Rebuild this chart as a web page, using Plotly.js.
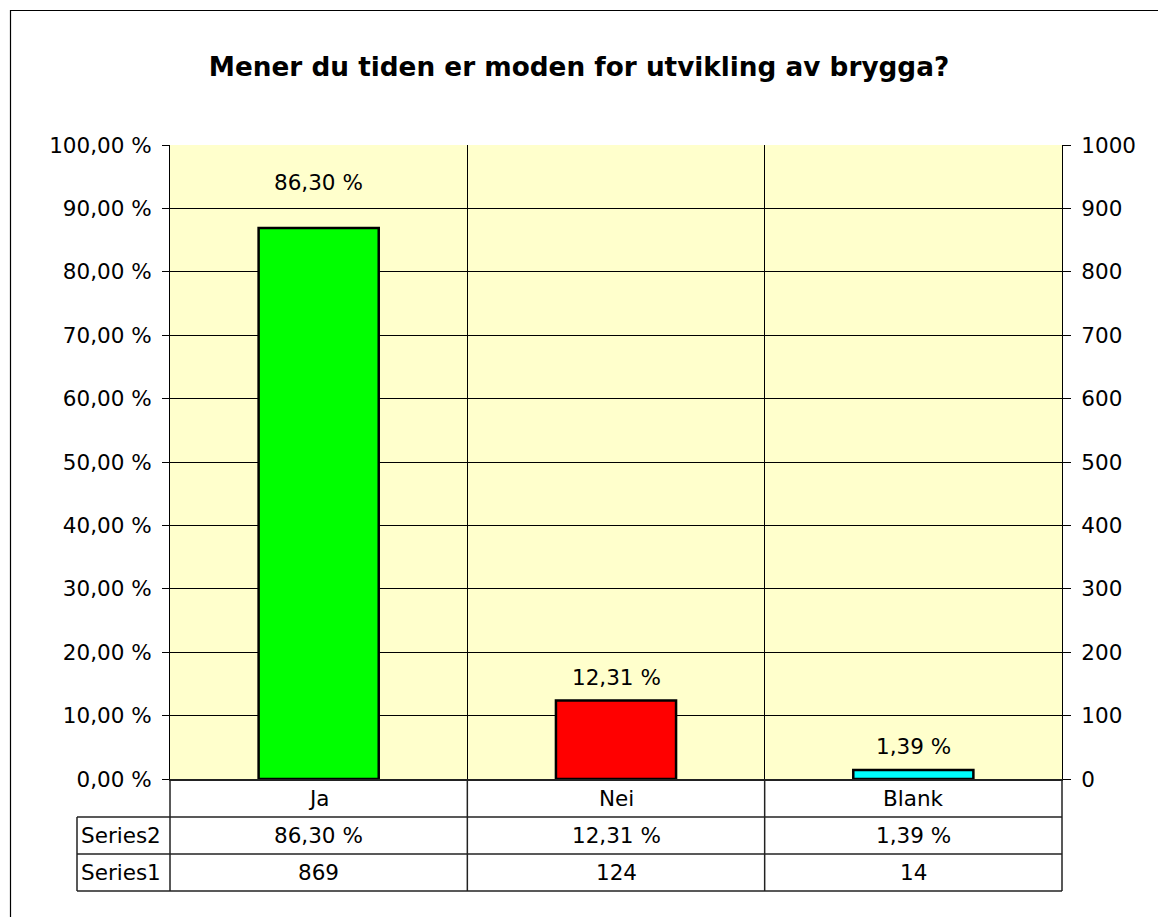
<!DOCTYPE html>
<html>
<head>
<meta charset="utf-8">
<script src="https://cdn.plot.ly/plotly-3.0.1.min.js"></script>
<style>html,body{margin:0;padding:0;background:#fff;}#chart{width:1158px;height:917px;}</style>
</head>
<body>
<div id="chart"></div>
<script>
const categories = ['Ja', 'Nei', 'Blank'];
const series1Counts = [869, 124, 14];
const series2Percent = [86.30, 12.31, 1.39];
const seriesNames = ['Series2', 'Series1'];
const barColors = ['#00FF00', '#FF0000', '#00FFFF'];
const titleText = 'Mener du tiden er moden for utvikling av brygga?';

const W = 1158, H = 917;
const L = 170, R = 1062, T = 145, B = 779;
const pw = R - L, ph = B - T;
const px = X => (X - L) / pw;
const py = Y => (B - Y) / ph;
const FONT = 'DejaVu Sans, Verdana, sans-serif';
const FS = 21.5;
const fmtPct = v => v.toFixed(2).replace('.', ',') + ' %';

const labelShift = [49, 23, 24];

const annotations = [];
// bar labels
categories.forEach((c, i) => {
  annotations.push({x: c, xref: 'x', y: series2Percent[i], yref: 'y', yshift: labelShift[i],
    text: fmtPct(series2Percent[i]), showarrow: false, font: {family: FONT, size: FS, color: '#000'},
    xanchor: 'center', yanchor: 'middle'});
});
// data table
const rowCenters = [798, 836, 872];
categories.forEach((c, i) => {
  annotations.push({x: c, xref: 'x', y: py(rowCenters[0]), yref: 'paper', text: c, showarrow: false,
    font: {family: FONT, size: FS, color: '#000'}, xanchor: 'center', yanchor: 'middle'});
  annotations.push({x: c, xref: 'x', y: py(rowCenters[1]), yref: 'paper', text: fmtPct(series2Percent[i]), showarrow: false,
    font: {family: FONT, size: FS, color: '#000'}, xanchor: 'center', yanchor: 'middle'});
  annotations.push({x: c, xref: 'x', y: py(rowCenters[2]), yref: 'paper', text: String(series1Counts[i]), showarrow: false,
    font: {family: FONT, size: FS, color: '#000'}, xanchor: 'center', yanchor: 'middle'});
});
seriesNames.forEach((n, k) => {
  annotations.push({x: px(79), xref: 'paper', y: py(rowCenters[k + 1]), yref: 'paper', text: n, showarrow: false,
    font: {family: FONT, size: FS, color: '#000'}, xanchor: 'left', yanchor: 'middle'});
});

const lc = '#222';
const shapes = [];
const hline = (Y, x0, x1) => shapes.push({type: 'line', xref: 'paper', yref: 'paper', x0: px(x0), x1: px(x1), y0: py(Y), y1: py(Y), line: {color: lc, width: 1.5}});
const vline = (X, y0, y1) => shapes.push({type: 'line', xref: 'paper', yref: 'paper', x0: px(X), x1: px(X), y0: py(y0), y1: py(y1), line: {color: lc, width: 1.5}});
hline(817, 77, R); hline(854, 77, R); hline(891, 77, R);
vline(77, 817, 891); vline(L, B, 891); vline(R, B, 891);
for (let k = 1; k < categories.length; k++) vline(L + pw * k / categories.length, B, 891);
// outer border
shapes.push({type: 'rect', xref: 'paper', yref: 'paper', x0: px(10.5), x1: px(1170), y0: py(10.5), y1: py(930), line: {color: '#000', width: 1.2}, layer: 'below'});

const trace = {
  type: 'bar', x: categories, y: series1Counts, yaxis: 'y2', width: 0.404,
  marker: {color: barColors, line: {color: '#000', width: 2.5}},
  hoverinfo: 'skip', showlegend: false
};

const layout = {
  width: W, height: H,
  margin: {l: L, r: W - R, t: T, b: H - B, pad: 0},
  paper_bgcolor: '#fff', plot_bgcolor: '#FFFFCC',
  separators: ', ',
  font: {family: FONT, size: FS, color: '#000'},
  title: {text: '<b>' + titleText + '</b>', font: {family: FONT, size: 26.3, color: '#000'},
    x: 0.5, xref: 'container', xanchor: 'center', y: 1 - 67 / H, yref: 'container', yanchor: 'middle'},
  xaxis: {type: 'category', range: [-0.5, 2.5], tickson: 'boundaries', showgrid: true, gridcolor: '#000', gridwidth: 1,
    showticklabels: false, ticks: '', showline: true, linecolor: lc, linewidth: 2, zeroline: false, fixedrange: true},
  yaxis: {range: [0, 100], dtick: 10, tickformat: '.2f', ticksuffix: ' %', showgrid: true, gridcolor: '#000', gridwidth: 1,
    ticks: 'outside', ticklen: 7, tickcolor: '#000', showline: true, linecolor: '#000', linewidth: 1, zeroline: false,
    ticklabelstandoff: 6, tickfont: {family: FONT, size: FS, color: '#000'}},
  yaxis2: {range: [0, 1000], dtick: 100, tickformat: 'd', overlaying: 'y', side: 'right', showgrid: false,
    ticks: 'outside', ticklen: 8, tickcolor: '#000', showline: true, linecolor: '#000', linewidth: 1, zeroline: false,
    ticklabelstandoff: 6, tickfont: {family: FONT, size: FS, color: '#000'}},
  bargap: 0.6,
  annotations: annotations,
  shapes: shapes
};

Plotly.newPlot('chart', [trace], layout, {displayModeBar: false, staticPlot: true});
</script>
</body>
</html>
